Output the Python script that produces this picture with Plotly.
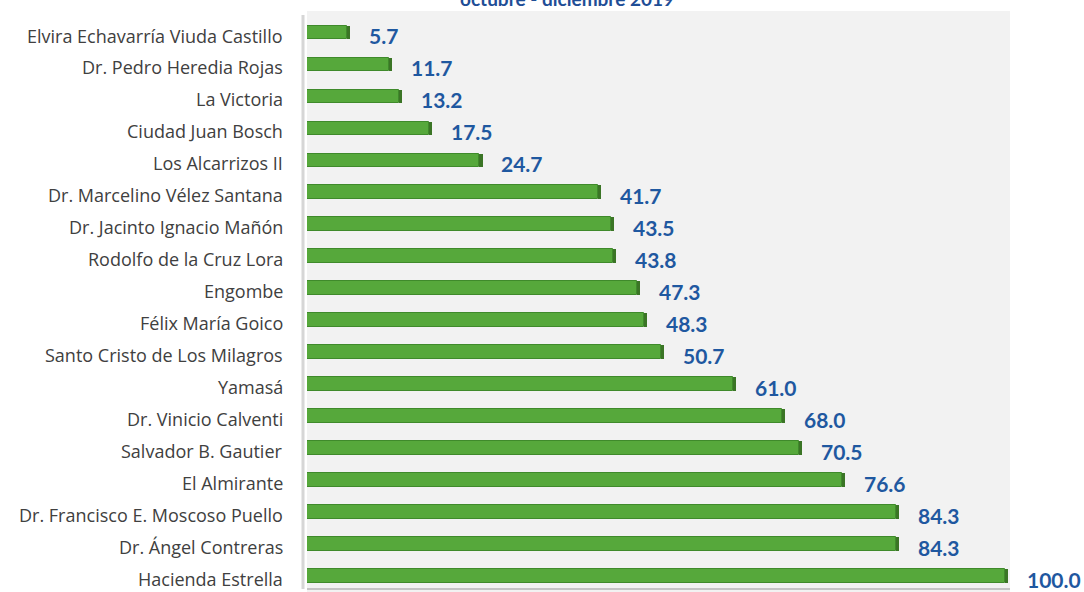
import plotly.graph_objects as go

categories = [
    "Elvira Echavarría Viuda Castillo", "Dr. Pedro Heredia Rojas", "La Victoria",
    "Ciudad Juan Bosch", "Los Alcarrizos II", "Dr. Marcelino Vélez Santana",
    "Dr. Jacinto Ignacio Mañón", "Rodolfo de la Cruz Lora", "Engombe",
    "Félix María Goico", "Santo Cristo de Los Milagros", "Yamasá",
    "Dr. Vinicio Calventi", "Salvador B. Gautier", "El Almirante",
    "Dr. Francisco E. Moscoso Puello", "Dr. Ángel Contreras", "Hacienda Estrella",
]
values = [5.7, 11.7, 13.2, 17.5, 24.7, 41.7, 43.5, 43.8, 47.3, 48.3, 50.7,
          61.0, 68.0, 70.5, 76.6, 84.3, 84.3, 100.0]
title_text = "octubre - diciembre 2019"

BAR_W = 0.43
fig = go.Figure()
fig.add_trace(go.Bar(
    y=categories, x=values, orientation="h", width=BAR_W,
    marker=dict(color="#56a83b", line=dict(color="#3f8a2b", width=1)),
    hoverinfo="x+y", showlegend=False,
))
# darker right face (3D look)
fig.add_trace(go.Bar(
    y=categories, x=[0.45] * len(values), base=values, orientation="h", width=BAR_W,
    marker=dict(color="#3b7526", line=dict(width=0)),
    hoverinfo="skip", showlegend=False,
))

annotations = []
for c, v in zip(categories, values):
    annotations.append(dict(
        x=v, y=c, xref="x", yref="y", text=f"{v:.1f}", showarrow=False,
        xanchor="left", yanchor="middle", xshift=20, yshift=-3,
        font=dict(family="Lato", size=21, color="#1f58a0", weight="bold"),
    ))
    annotations.append(dict(
        x=0, y=c, xref="paper", yref="y", text=c, showarrow=False,
        xanchor="right", yanchor="middle", xshift=-22, yshift=-3,
        font=dict(family="Open Sans", size=18, color="#404040"),
    ))
annotations.append(dict(
    x=0.37, y=1, xref="paper", yref="paper", text=f"<b>{title_text}</b>",
    showarrow=False, xanchor="center", yanchor="middle", yshift=17,
    font=dict(family="Lato", size=19, color="#1f4e96"),
))

shapes = [
    # background extension above plot
    dict(type="rect", xref="paper", yref="paper", x0=0, x1=1, y0=1, y1=1.007,
         fillcolor="#f2f2f2", line=dict(width=0), layer="below"),
    # left wall
    dict(type="line", xref="paper", yref="paper", xsizemode="pixel", xanchor=0,
         x0=-4, x1=-4, y0=0.005, y1=1, line=dict(color="#d6d6d6", width=3)),
    # floor
    dict(type="line", xref="paper", yref="paper", ysizemode="pixel", yanchor=0,
         x0=0, x1=1, y0=3, y1=3, line=dict(color="#c4c4c4", width=2)),
]

fig.update_layout(
    width=1084, height=592,
    margin=dict(l=307, r=74, t=15, b=0),
    paper_bgcolor="white", plot_bgcolor="#f2f2f2",
    barmode="overlay", bargap=0,
    xaxis=dict(range=[0, 100.7], showgrid=False, zeroline=False,
               showticklabels=False, ticks=""),
    yaxis=dict(autorange="reversed", showgrid=False, showticklabels=False,
               ticks="", type="category"),
    annotations=annotations, shapes=shapes,
    font=dict(family="Lato"),
)

fig.write_html("out.html", config={"displayModeBar": False},
               post_script="document.body.style.margin='0';document.body.style.overflow='hidden';")
